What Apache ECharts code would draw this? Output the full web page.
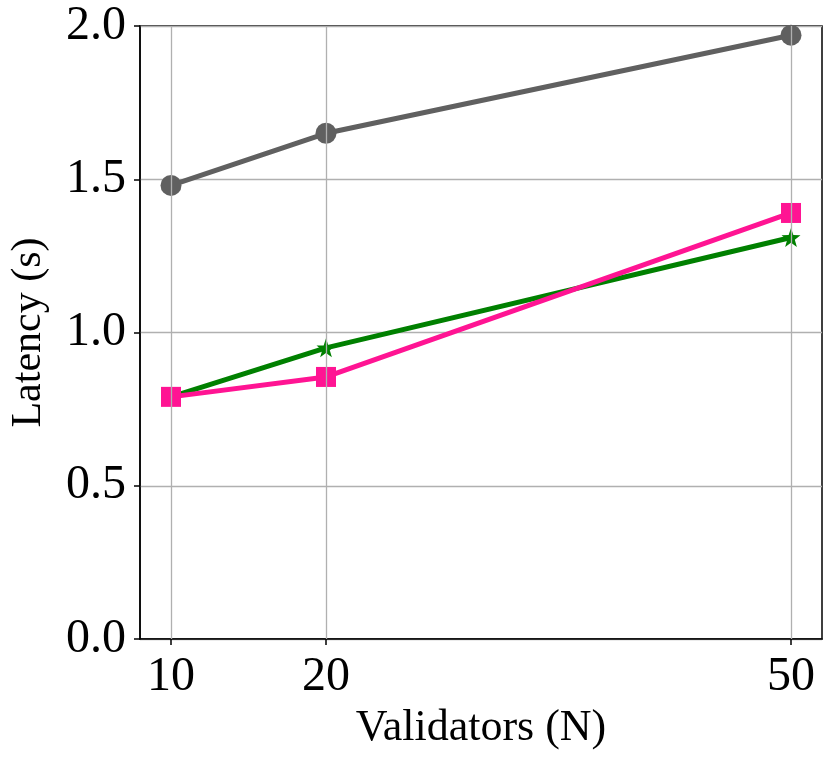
<!DOCTYPE html>
<html>
<head>
<meta charset="utf-8">
<script src="https://cdn.jsdelivr.net/npm/echarts@6/dist/echarts.min.js"></script>
<style>
  html, body { margin: 0; padding: 0; background: #fff; }
  #chart { width: 830px; height: 761px; }
</style>
</head>
<body>
<div id="chart"></div>
<script>
// data
const validators = [10, 20, 50];
const grayLatency = [1.48, 1.65, 1.97];
const greenLatency = [0.79, 0.95, 1.31];
const pinkLatency = [0.79, 0.855, 1.39];
const xTicks = [10, 20, 50];

const serif = 'Liberation Serif';
const starPath = 'path://M0,-10 L2.35,-3.24 L9.51,-3.09 L3.8,1.24 L5.88,8.09 L0,4 L-5.88,8.09 L-3.8,1.24 L-9.51,-3.09 L-2.35,-3.24 Z';

function pairs(ys) {
  return validators.map((x, i) => [x, ys[i]]);
}

const chart = echarts.init(document.getElementById('chart'));
chart.setOption({
  animation: false,
  grid: {
    left: 137, right: 8, top: 26, bottom: 122,
    show: true, borderColor: '#000', borderWidth: 1.5, backgroundColor: 'transparent'
  },
  xAxis: {
    type: 'value', min: 8, max: 52,
    name: 'Validators (N)', nameLocation: 'middle', nameGap: 67,
    nameTextStyle: { fontFamily: serif, fontSize: 44, color: '#000' },
    axisLine: { show: true, lineStyle: { color: '#000', width: 1.5 } },
    axisTick: { show: true, inside: false, length: 6, customValues: xTicks, lineStyle: { color: '#000', width: 1.5 } },
    axisLabel: { customValues: xTicks, margin: 14, fontFamily: serif, fontSize: 48, color: '#000' },
    splitLine: { show: false }
  },
  yAxis: {
    type: 'value', min: 0, max: 2, interval: 0.5,
    name: 'Latency (s)', nameLocation: 'middle', nameGap: 90,
    nameTextStyle: { fontFamily: serif, fontSize: 42, color: '#000' },
    axisLine: { show: true, lineStyle: { color: '#000', width: 1.5 } },
    axisTick: { show: true, length: 6, lineStyle: { color: '#000', width: 1.5 } },
    axisLabel: { margin: 14, fontFamily: serif, fontSize: 48, color: '#000', formatter: v => v.toFixed(1) },
    splitLine: { show: true, lineStyle: { color: '#b0b0b0', width: 1.3 } }
  },
  series: [
    {
      // vertical grid lines at the x ticks
      type: 'line', data: [], z: 0, silent: true,
      markLine: {
        silent: true, symbol: 'none', label: { show: false },
        lineStyle: { color: '#b0b0b0', width: 1.3, type: 'solid' },
        data: xTicks.map(v => ({ xAxis: v }))
      }
    },
    {
      type: 'line', data: pairs(grayLatency), z: 2,
      lineStyle: { color: '#606060', width: 5 },
      itemStyle: { color: '#606060' },
      symbol: 'circle', symbolSize: 21
    },
    {
      type: 'line', data: pairs(greenLatency), z: 3,
      lineStyle: { color: '#008000', width: 5 },
      itemStyle: { color: '#008000' },
      symbol: starPath, symbolSize: 19
    },
    {
      type: 'line', data: pairs(pinkLatency), z: 4,
      lineStyle: { color: '#ff1493', width: 5 },
      itemStyle: { color: '#ff1493' },
      symbol: 'rect', symbolSize: 20
    }
  ]
});
</script>
</body>
</html>
